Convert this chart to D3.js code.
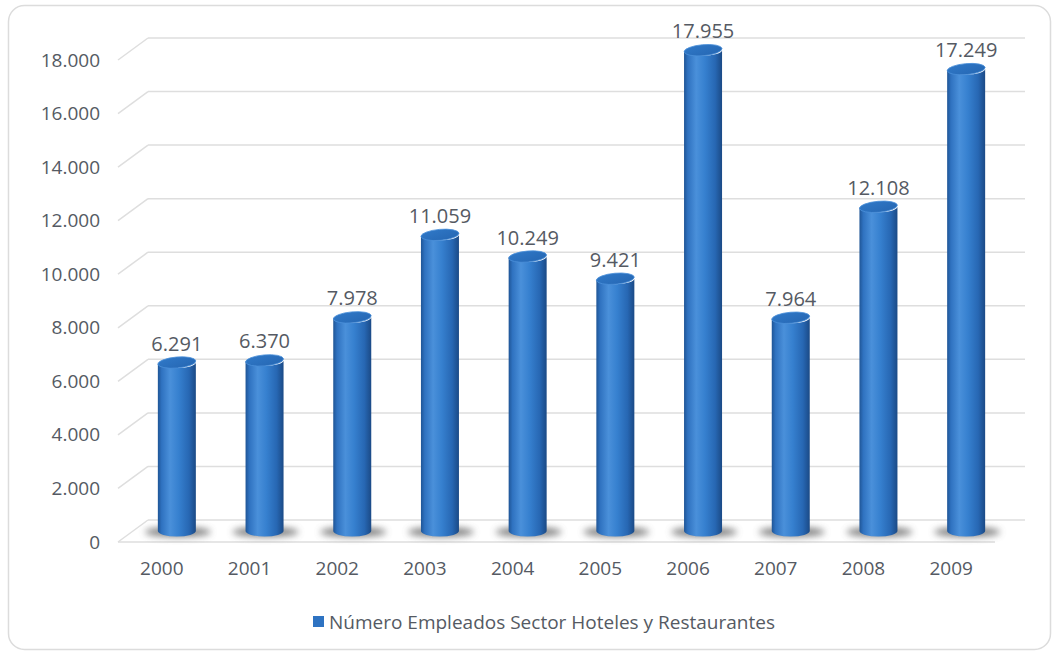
<!DOCTYPE html>
<html>
<head>
<meta charset="utf-8">
<script src="https://cdn.jsdelivr.net/npm/d3@7"></script>
<style>
  html, body { margin: 0; padding: 0; background: #ffffff; }
  svg text { font-family: "Open Sans", "DejaVu Sans", sans-serif; fill: #555a63; }
</style>
</head>
<body>
<svg id="chart" width="1058" height="654"></svg>
<script>
// Employees in the hotel & restaurant sector, by year
const years = ["2000", "2001", "2002", "2003", "2004", "2005", "2006", "2007", "2008", "2009"];
const employees = [6291, 6370, 7978, 11059, 10249, 9421, 17955, 7964, 12108, 17249];
const yTicks = [0, 2000, 4000, 6000, 8000, 10000, 12000, 14000, 16000, 18000];
const seriesName = "Número Empleados Sector Hoteles y Restaurantes";

const esLocale = d3.formatLocale({ decimal: ",", thousands: ".", grouping: [3], currency: ["", " €"] });
const fmt = esLocale.format(",d");

const svg = d3.select("#chart");

// 3D depth offset of the plot box
const depthX = 30, depthY = -22;
const plot = { left: 118, right: 995, bottom: 542, top: 60 };

const x = d3.scaleBand().domain(years).range([plot.left, plot.right]).paddingInner(0).paddingOuter(0);
const yFront = d3.scaleLinear().domain([0, 18000]).range([plot.bottom, plot.top]);
const yBack = v => yFront(v) + depthY;
const yMid = v => yFront(v) + depthY / 2;

const defs = svg.append("defs");

// Cylinder body shading
const bodyGrad = defs.append("linearGradient").attr("id", "cylBody").attr("x1", "0").attr("x2", "1").attr("y1", "0").attr("y2", "0");
[["0%", "#1f5596"], ["10%", "#2f72c0"], ["32%", "#4a90da"], ["55%", "#3680cf"], ["82%", "#2767b3"], ["100%", "#1b4a86"]]
  .forEach(([o, c]) => bodyGrad.append("stop").attr("offset", o).attr("stop-color", c));

const topGrad = defs.append("linearGradient").attr("id", "cylTop").attr("x1", "0").attr("x2", "1").attr("y1", "0").attr("y2", "1");
[["0%", "#3079c8"], ["100%", "#2566b2"]].forEach(([o, c]) => topGrad.append("stop").attr("offset", o).attr("stop-color", c));

const blur = defs.append("filter").attr("id", "shadowBlur").attr("x", "-50%").attr("y", "-150%").attr("width", "200%").attr("height", "400%");
blur.append("feGaussianBlur").attr("stdDeviation", 3.5);

// Outer frame
svg.append("rect")
  .attr("x", 8.5).attr("y", 5.5).attr("width", 1042).attr("height", 644)
  .attr("rx", 16).attr("ry", 16)
  .attr("fill", "#ffffff").attr("stroke", "#dcdcdc").attr("stroke-width", 1.5);

const grid = svg.append("g").attr("stroke", "#dedede").attr("stroke-width", 1.5).attr("fill", "none");

// Back wall gridlines
grid.selectAll("line.back").data(yTicks).join("line")
  .attr("class", "back")
  .attr("x1", plot.left + depthX).attr("x2", plot.right + depthX)
  .attr("y1", d => yBack(d)).attr("y2", d => yBack(d));

// Side wall gridlines
grid.selectAll("line.side").data(yTicks).join("line")
  .attr("class", "side")
  .attr("x1", plot.left).attr("x2", plot.left + depthX)
  .attr("y1", d => yFront(d)).attr("y2", d => yBack(d));

// Floor front edge
grid.append("line")
  .attr("x1", plot.left).attr("x2", plot.right)
  .attr("y1", yFront(0)).attr("y2", yFront(0));

// Y axis labels
const yAxis = d3.axisLeft(yFront).tickValues(yTicks).tickFormat(fmt).tickSize(0).tickPadding(18);
const yG = svg.append("g").attr("transform", `translate(${plot.left},0)`).call(yAxis);
yG.select(".domain").remove();
yG.attr("font-family", null).attr("font-size", null);
yG.selectAll("text").attr("font-size", 19);

// X axis labels
const xAxis = d3.axisBottom(x).tickSize(0).tickPadding(20);
const xG = svg.append("g").attr("transform", `translate(0,${plot.bottom})`).call(xAxis);
xG.select(".domain").remove();
xG.attr("font-family", null).attr("font-size", null);
xG.selectAll("text").attr("font-size", 19);

// Cylinders
const r = 19, ry = 5.5;
const cx = d => x(d.year) + x.bandwidth() / 2 + depthX / 2;
const data = years.map((year, i) => ({ year, value: employees[i] }));

const bars = svg.append("g").selectAll("g").data(data).join("g");

// floor shadow
bars.append("ellipse")
  .attr("cx", d => cx(d) + 1).attr("cy", yMid(0) + 1)
  .attr("rx", r + 14).attr("ry", 5)
  .attr("fill", "#555555").attr("opacity", 0.75)
  .attr("filter", "url(#shadowBlur)");

bars.append("path")
  .attr("fill", "url(#cylBody)")
  .attr("d", d => {
    const c = cx(d), yb = yMid(0), yt = yMid(d.value);
    return `M${c - r},${yt} L${c - r},${yb} A${r},${ry} 0 0 0 ${c + r},${yb} L${c + r},${yt} A${r},${ry} 0 0 1 ${c - r},${yt} Z`;
  });

bars.append("ellipse")
  .attr("cx", 0).attr("cy", 0)
  .attr("rx", r).attr("ry", ry)
  .attr("transform", d => `translate(${cx(d)},${yMid(d.value)}) rotate(-5)`)
  .attr("fill", "url(#cylTop)")
  .attr("stroke", "#4b90da").attr("stroke-width", 0.8);

// Value labels
bars.append("text")
  .attr("x", d => cx(d))
  .attr("y", d => yMid(d.value) - 12)
  .attr("text-anchor", "middle")
  .attr("font-size", 20)
  .text(d => fmt(d.value));

// Legend
const legend = svg.append("g").attr("transform", "translate(313,616)");
legend.append("rect").attr("x", 0).attr("y", 0).attr("width", 11).attr("height", 11).attr("fill", "#2e73c2");
legend.append("text").attr("x", 16).attr("y", 6).attr("dominant-baseline", "central")
  .attr("font-size", 19).text(seriesName);
</script>
</body>
</html>
